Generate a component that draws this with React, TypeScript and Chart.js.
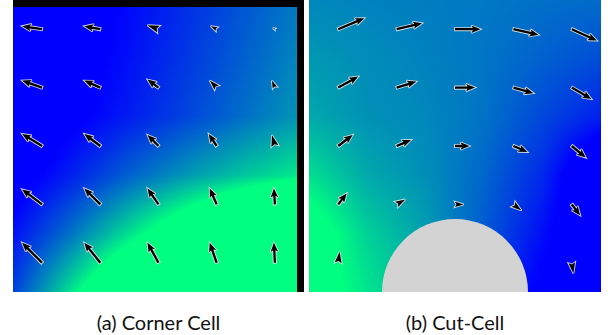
import React, { useEffect, useRef } from "react";
import { Chart, registerables } from "chart.js";

Chart.register(...registerables);

// ---- arrow grid (cell centres, rows listed top to bottom) ----
const CELL_X = [0.5, 1.5, 2.5, 3.5, 4.5];
const CELL_Y = [4.5, 3.5, 2.5, 1.5, 0.5];

// (a) Corner Cell velocity components
const CORNER_U: (number | null)[][] = [
  [-1.0, -0.8, -0.55, -0.3, -0.1],
  [-1.0, -0.8, -0.55, -0.35, -0.15],
  [-1.0, -0.8, -0.55, -0.4, -0.15],
  [-1.0, -0.8, -0.55, -0.35, -0.05],
  [-1.0, -0.8, -0.55, -0.35, -0.05],
];
const CORNER_V: (number | null)[][] = [
  [0.15, 0.15, 0.2, 0.15, 0.05],
  [0.35, 0.35, 0.4, 0.35, 0.35],
  [0.6, 0.6, 0.55, 0.6, 0.55],
  [0.75, 0.8, 0.8, 0.8, 0.8],
  [1.0, 1.0, 1.0, 1.0, 1.0],
];

// (b) Cut-Cell velocity components (null = inside the obstacle)
const CUT_U: (number | null)[][] = [
  [1.3, 1.27, 1.27, 1.25, 1.25],
  [1.0, 0.98, 1.0, 1.0, 0.98],
  [0.72, 0.72, 0.72, 0.7, 0.7],
  [0.42, 0.43, 0.43, 0.4, 0.42],
  [0.07, null, null, null, 0.08],
];
const CUT_V: (number | null)[][] = [
  [0.55, 0.3, 0.0, -0.28, -0.57],
  [0.55, 0.3, 0.0, -0.28, -0.57],
  [0.55, 0.3, 0.0, -0.3, -0.58],
  [0.55, 0.25, 0.0, -0.3, -0.55],
  [0.55, null, null, null, -0.53],
];

// ---- background scalar field samples (rows top y=5 to bottom y=0) ----
const FIELD_X = [0, 1, 2, 3, 4, 5];
const FIELD_Y = [5, 4, 3, 2, 1, 0];

const CORNER_FIELD = [
  [-0.28, -0.13, 0.03, 0.18, 0.34, 0.49],
  [-0.26, -0.1, 0.06, 0.22, 0.38, 0.54],
  [-0.22, -0.05, 0.11, 0.27, 0.44, 0.6],
  [-0.12, 0.12, 0.38, 0.6, 0.78, 0.93],
  [0.06, 0.45, 0.88, 1.3, 1.75, 2.2],
  [0.25, 0.9, 1.55, 2.2, 2.85, 3.5],
];

const CUT_FIELD = [
  [0.53, 0.51, 0.49, 0.47, 0.44, 0.42],
  [0.6, 0.55, 0.51, 0.46, 0.38, 0.3],
  [0.66, 0.57, 0.53, 0.45, 0.28, 0.12],
  [0.88, 0.66, 0.56, 0.4, 0.16, -0.3],
  [1.15, 0.82, 0.62, 0.35, 0.05, -0.3],
  [1.14, 0.9, 0.7, 0.25, -0.05, -0.4],
];

// obstacle of the cut cell (data units)
const OBSTACLE_X = 2.5;
const OBSTACLE_Y = 0;
const OBSTACLE_R = 1.25;

const DOMAIN_MIN = 0;
const DOMAIN_MAX = 5;
const ARROW_SCALE = 0.343; // data units per velocity unit

const CAPTIONS = ["(a) Corner Cell", "(b) Cut-Cell"];

// ---------------------------------------------------------------
function colormap(t: number): [number, number, number] {
  const c = Math.max(0, Math.min(1, t));
  return [0, Math.round(255 * c), Math.round(255 - 127 * c)];
}

function sampleField(field: number[][], x: number, y: number): number {
  let i = 0;
  while (i < FIELD_X.length - 2 && x > FIELD_X[i + 1]) i++;
  let j = 0;
  while (j < FIELD_Y.length - 2 && y < FIELD_Y[j + 1]) j++;
  let sx = (x - FIELD_X[i]) / (FIELD_X[i + 1] - FIELD_X[i]);
  let sy = (FIELD_Y[j] - y) / (FIELD_Y[j] - FIELD_Y[j + 1]);
  sx = Math.max(0, Math.min(1, sx));
  sy = Math.max(0, Math.min(1, sy));
  const a = field[j][i];
  const b = field[j][i + 1];
  const c = field[j + 1][i];
  const d = field[j + 1][i + 1];
  return (a * (1 - sx) + b * sx) * (1 - sy) + (c * (1 - sx) + d * sx) * sy;
}

function arrowPath(ctx: CanvasRenderingContext2D, x0: number, y0: number, x1: number, y1: number) {
  const dx = x1 - x0;
  const dy = y1 - y0;
  const L = Math.hypot(dx, dy);
  if (L < 0.8) return false;
  const ux = dx / L;
  const uy = dy / L;
  const nx = -uy;
  const ny = ux;
  ctx.beginPath();
  if (L >= 12) {
    const sw = 1.15;
    const hw = 3.7;
    const hl = 9;
    const hal = 7.5;
    const kx = x0 + ux * (L - hal);
    const ky = y0 + uy * (L - hal);
    const bx = x0 + ux * (L - hl);
    const by = y0 + uy * (L - hl);
    ctx.moveTo(x0 + nx * sw, y0 + ny * sw);
    ctx.lineTo(kx + nx * sw, ky + ny * sw);
    ctx.lineTo(bx + nx * hw, by + ny * hw);
    ctx.lineTo(x1, y1);
    ctx.lineTo(bx - nx * hw, by - ny * hw);
    ctx.lineTo(kx - nx * sw, ky - ny * sw);
    ctx.lineTo(x0 - nx * sw, y0 - ny * sw);
  } else {
    const hw = 3.7 * (L / 12);
    const notch = 0.17 * L;
    ctx.moveTo(x1, y1);
    ctx.lineTo(x0 + nx * hw, y0 + ny * hw);
    ctx.lineTo(x0 + ux * notch, y0 + uy * notch);
    ctx.lineTo(x0 - nx * hw, y0 - ny * hw);
  }
  ctx.closePath();
  return true;
}

type PanelKind = "corner" | "cut";

function makePlugins(kind: PanelKind) {
  const field = kind === "corner" ? CORNER_FIELD : CUT_FIELD;
  const fieldPlugin = {
    id: "fieldBackground",
    beforeDatasetsDraw(chart: any) {
      const { ctx, chartArea, scales } = chart;
      const left = Math.round(chartArea.left);
      const top = Math.round(chartArea.top);
      const w = Math.round(chartArea.right - chartArea.left);
      const h = Math.round(chartArea.bottom - chartArea.top);
      const off = document.createElement("canvas");
      off.width = w;
      off.height = h;
      const octx = off.getContext("2d")!;
      const img = octx.createImageData(w, h);
      for (let py = 0; py < h; py++) {
        const yv = scales.y.getValueForPixel(top + py + 0.5);
        for (let px = 0; px < w; px++) {
          const xv = scales.x.getValueForPixel(left + px + 0.5);
          const [r, g, b] = colormap(sampleField(field, xv, yv));
          const k = (py * w + px) * 4;
          img.data[k] = r;
          img.data[k + 1] = g;
          img.data[k + 2] = b;
          img.data[k + 3] = 255;
        }
      }
      octx.putImageData(img, 0, 0);
      ctx.save();
      ctx.drawImage(off, left, top);
      if (kind === "cut") {
        const cx = scales.x.getPixelForValue(OBSTACLE_X);
        const cy = scales.y.getPixelForValue(OBSTACLE_Y);
        const r = Math.abs(scales.x.getPixelForValue(OBSTACLE_X + OBSTACLE_R) - cx);
        ctx.beginPath();
        ctx.rect(chartArea.left, chartArea.top, chartArea.right - chartArea.left, chartArea.bottom - chartArea.top);
        ctx.clip();
        ctx.beginPath();
        ctx.arc(cx, cy, r, 0, Math.PI * 2);
        ctx.fillStyle = "#d3d3d3";
        ctx.fill();
      } else {
        ctx.fillStyle = "#000000";
        ctx.fillRect(chartArea.left, chartArea.top, chartArea.right - chartArea.left, 7);
        ctx.fillRect(chartArea.right - 7, chartArea.top, 7, chartArea.bottom - chartArea.top);
      }
      ctx.restore();
    },
  };
  const arrowPlugin = {
    id: "quiverArrows",
    afterDatasetsDraw(chart: any) {
      const { ctx, scales } = chart;
      const pts = chart.data.datasets[0].data as any[];
      ctx.save();
      ctx.lineJoin = "miter";
      ctx.miterLimit = 3;
      for (const p of pts) {
        const x0 = scales.x.getPixelForValue(p.x);
        const y0 = scales.y.getPixelForValue(p.y);
        const x1 = scales.x.getPixelForValue(p.x + p.u * ARROW_SCALE);
        const y1 = scales.y.getPixelForValue(p.y + p.v * ARROW_SCALE);
        if (!arrowPath(ctx, x0, y0, x1, y1)) continue;
        ctx.strokeStyle = "rgba(225,225,225,0.95)";
        ctx.lineWidth = 1.8;
        ctx.stroke();
        ctx.fillStyle = "#000000";
        ctx.fill();
      }
      ctx.restore();
    },
  };
  return [fieldPlugin, arrowPlugin];
}

function Panel({ kind, left, width, height }: { kind: PanelKind; left: number; width: number; height: number }) {
  const ref = useRef<HTMLCanvasElement | null>(null);
  useEffect(() => {
    if (!ref.current) return;
    const U = kind === "corner" ? CORNER_U : CUT_U;
    const V = kind === "corner" ? CORNER_V : CUT_V;
    const points: any[] = [];
    CELL_Y.forEach((y, r) => {
      CELL_X.forEach((x, c) => {
        const u = U[r][c];
        const v = V[r][c];
        if (u === null || v === null) return;
        points.push({ x, y, u, v });
      });
    });
    const chart = new Chart(ref.current, {
      type: "scatter",
      data: {
        datasets: [
          {
            data: points,
            pointRadius: 0,
            pointHoverRadius: 0,
            showLine: false,
          },
        ],
      },
      options: {
        responsive: false,
        animation: false,
        events: [],
        layout: { padding: 0 },
        plugins: {
          legend: { display: false },
          tooltip: { enabled: false },
          title: { display: false },
        },
        scales: {
          x: { type: "linear", min: DOMAIN_MIN, max: DOMAIN_MAX, display: false },
          y: { type: "linear", min: DOMAIN_MIN, max: DOMAIN_MAX, display: false },
        },
      },
      plugins: makePlugins(kind),
    } as any);
    return () => chart.destroy();
  }, [kind]);
  return (
    <canvas
      ref={ref}
      width={width}
      height={height}
      style={{ position: "absolute", left, top: 0, width, height }}
    />
  );
}

export default function App() {
  const captionStyle: React.CSSProperties = {
    position: "absolute",
    top: 309,
    height: 26,
    lineHeight: "26px",
    textAlign: "center",
    fontFamily: "Lato, 'Open Sans', sans-serif",
    fontSize: 20,
    color: "#111",
    whiteSpace: "nowrap",
  };
  return (
    <div style={{ position: "absolute", left: 0, top: 0, width: 608, height: 335, background: "#fff", overflow: "hidden" }}>
      <Panel kind="corner" left={13} width={291} height={292} />
      <Panel kind="cut" left={309} width={292} height={292} />
      <div style={{ ...captionStyle, left: 13, width: 291 }}>{CAPTIONS[0]}</div>
      <div style={{ ...captionStyle, left: 309, width: 292 }}>{CAPTIONS[1]}</div>
    </div>
  );
}
